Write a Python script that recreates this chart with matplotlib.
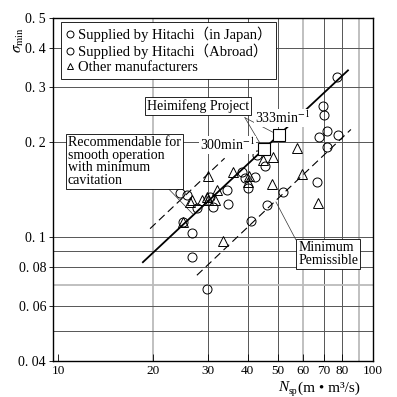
import matplotlib
matplotlib.use('Agg')
import matplotlib.pyplot as plt
from matplotlib.lines import Line2D

#--Data--#
# Hitachi units built for Japan (N_sp, sigma_min)
japan_n = [29.7, 26.6, 26.6, 24.9, 24.4, 25.7, 27.6, 30.3, 31.0, 34.4, 34.6,
           38.4, 39.2, 42.1, 40.1, 42.8, 45.4, 46.0, 41.0]
japan_s = [0.068, 0.086, 0.103, 0.111, 0.138, 0.136, 0.123, 0.134, 0.124, 0.141, 0.127,
           0.161, 0.154, 0.155, 0.143, 0.182, 0.168, 0.126, 0.112]
# Hitachi units built for abroad
abroad_n = [51.8, 66.3, 76.8, 69.2, 69.9, 71.5, 67.2, 77.5, 71.5]
abroad_s = [0.139, 0.149, 0.323, 0.261, 0.245, 0.217, 0.208, 0.211, 0.193]
# other manufacturers
other_n = [24.9, 26.2, 26.6, 28.6, 29.9, 31.6, 32.0, 29.9, 29.7, 35.9, 40.4, 40.1,
           44.8, 48.2, 47.8, 57.4, 59.5, 66.9, 33.3]
other_s = [0.111, 0.129, 0.131, 0.131, 0.131, 0.131, 0.141, 0.156, 0.134, 0.161, 0.156, 0.149,
           0.176, 0.180, 0.147, 0.192, 0.158, 0.128, 0.097]
# Heimifeng project (300 and 333 min^-1)
heimi_n = [45.1, 50.3]
heimi_s = [0.190, 0.211]

# trend lines (end points)
mean_n, mean_s = [18.6, 83.3], [0.0828, 0.340]
recom_n, recom_s = [19.6, 33.8], [0.106, 0.178]
minim_n, minim_s = [27.6, 85.1], [0.0752, 0.220]

xticks = [10, 20, 30, 40, 50, 60, 70, 80, 100]
xticklabels = ['10', '20', '30', '40', '50', '60', '70', '80', '100']
yticks = [0.04, 0.06, 0.08, 0.1, 0.2, 0.3, 0.4, 0.5]
yticklabels = ['0. 04', '0. 06', '0. 08', '0. 1', '0. 2', '0. 3', '0. 4', '0. 5']

#--Style--#
plt.rcParams['font.family'] = ['Liberation Serif', 'Noto Sans CJK SC']
plt.rcParams['mathtext.fontset'] = 'stix'
plt.rcParams['font.size'] = 10

fig = plt.figure(figsize=(3.97, 3.97), dpi=100)
ax = fig.add_axes([0.1335, 0.0907, 0.806, 0.864])
ax.set_xscale('log')
ax.set_yscale('log')
ax.set_xlim(9.64, 100)
ax.set_ylim(0.04, 0.5)

#--Grid--#
dark, light = '#555555', '#bbbbbb'
for v, c in [(20, light), (30, dark), (40, dark), (50, dark), (60, light),
             (70, dark), (80, dark), (90, light)]:
    ax.axvline(v, color=c, lw=1.3 if c == light else 0.7, zorder=0)
for h, c in [(0.05, dark), (0.06, dark), (0.07, light), (0.08, dark), (0.09, dark),
             (0.1, dark), (0.2, dark), (0.3, dark), (0.4, dark)]:
    ax.axhline(h, color=c, lw=1.3 if c == light else 0.7, zorder=0)

#--Lines--#
ax.plot(mean_n, mean_s, color='black', lw=1.3, zorder=2)
ax.plot(recom_n, recom_s, color='black', lw=0.8, dashes=(7, 4), zorder=2)
ax.plot(minim_n, minim_s, color='black', lw=0.8, dashes=(7, 4), zorder=2)

#--Points--#
mk = dict(linestyle='none', markerfacecolor='none', markeredgecolor='black',
          markeredgewidth=0.7, zorder=3)
ax.plot(japan_n, japan_s, marker='o', markersize=6.5, **mk)
ax.plot(abroad_n, abroad_s, marker='o', markersize=6.5, **mk)
ax.plot(other_n, other_s, marker='^', markersize=7, **mk)
ax.plot(heimi_n, heimi_s, marker='s', markersize=9, linestyle='none',
        markerfacecolor='white', markeredgecolor='black', markeredgewidth=0.8, zorder=4)

#--Annotations--#
box = dict(boxstyle='square,pad=0.15', facecolor='white', edgecolor='black', lw=0.6)
ax.text(27.8, 0.261, 'Heimifeng Project', ha='center', va='center', bbox=box, zorder=5)
ax.text(10.75, 0.174, 'Recommendable for\nsmooth operation\nwith minimum\ncavitation',
        ha='left', va='center', linespacing=0.95, bbox=box, zorder=5)
ax.text(57.9, 0.0879, 'Minimum\nPemissible', ha='left', va='center',
        linespacing=0.95, bbox=box, zorder=5)
nobox = dict(boxstyle='square,pad=0.05', facecolor='white', edgecolor='none')
ax.text(28.2, 0.196, '300min$^{-1}$', ha='left', va='center', bbox=nobox, zorder=5)
ax.text(42.2, 0.240, '333min$^{-1}$', ha='left', va='center', bbox=nobox, zorder=5)

lead = dict(color='#333333', lw=0.5, zorder=2)
ax.plot([39.2, 44.4], [0.240, 0.194], **lead)
ax.plot([39.2, 48.8], [0.240, 0.214], **lead)
ax.plot([22.3, 26.8], [0.143, 0.118], **lead)
ax.plot([56.9, 49.2], [0.0977, 0.129], **lead)

#--Legend--#
h = [Line2D([], [], marker='o', ls='none', mfc='none', mec='black', ms=5, mew=0.7),
     Line2D([], [], marker='o', ls='none', mfc='none', mec='black', ms=5, mew=0.7),
     Line2D([], [], marker='^', ls='none', mfc='none', mec='black', ms=5, mew=0.7)]
leg = ax.legend(h, ['Supplied by Hitachi（in Japan）', 'Supplied by Hitachi（Abroad）',
                    'Other manufacturers'],
                loc='upper left', bbox_to_anchor=(0.025, 0.988), borderaxespad=0,
                fancybox=False, edgecolor='black', framealpha=1, handlelength=0.6,
                handletextpad=0.3, labelspacing=0.12, borderpad=0.3, fontsize=10.5)
leg.get_frame().set_linewidth(0.6)
leg.set_zorder(6)

#--Axes--#
ax.set_xticks(xticks)
ax.set_xticklabels(xticklabels)
ax.set_yticks(yticks)
ax.set_yticklabels(yticklabels)
ax.minorticks_off()
ax.tick_params(axis='x', direction='in', length=5, width=0.6, pad=3, labelsize=9.5)
ax.tick_params(axis='y', direction='out', length=3, width=0.6, pad=2)
for s in ax.spines.values():
    s.set_linewidth(1.0)

fig.text(0.05, 0.90, r'$\sigma_{\rm min}$', rotation=90, ha='center', va='center', fontsize=11)
# x label built from plain text pieces: N, subscript sp, units
fig.text(0.700, 0.014, 'N', style='italic', ha='left', va='baseline', fontsize=11)
fig.text(0.727, 0.008, 'sp', ha='left', va='baseline', fontsize=7)
fig.text(0.750, 0.014, '(m • m³/s)', ha='left', va='baseline', fontsize=11)

fig.savefig('out.png', dpi=100)
